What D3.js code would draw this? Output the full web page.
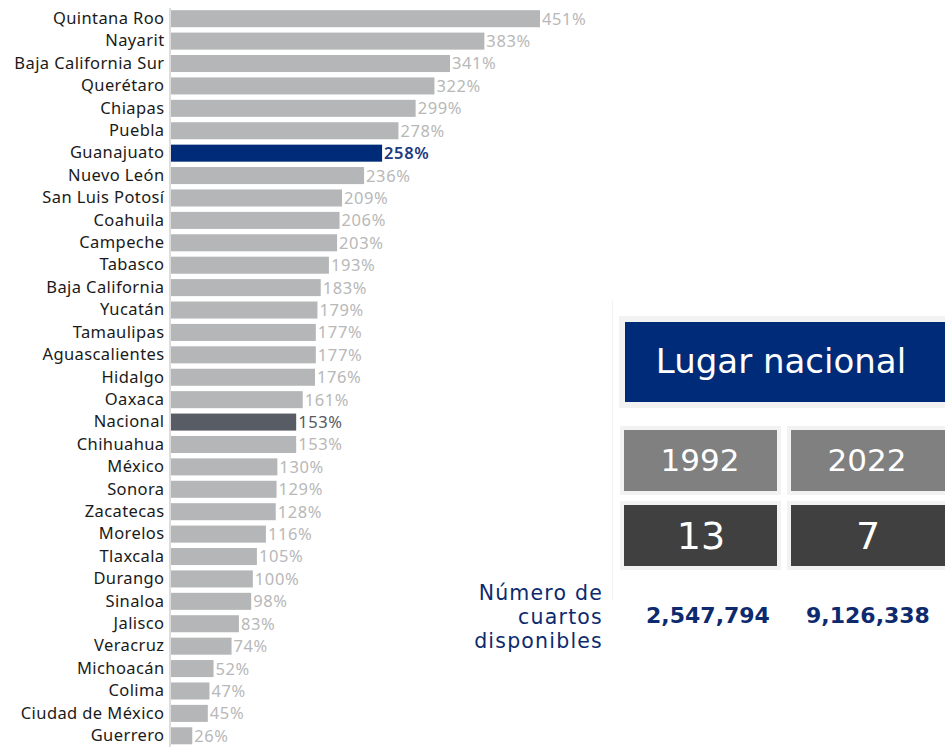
<!DOCTYPE html>
<html>
<head>
<meta charset="utf-8">
<script src="https://cdn.jsdelivr.net/npm/d3@7"></script>
<style>
  body { margin: 0; background: #fff; }
  svg { display: block; }
</style>
</head>
<body>
<svg width="945" height="747"></svg>
<script>
var estados = ['Quintana Roo', 'Nayarit', 'Baja California Sur', 'Querétaro', 'Chiapas', 'Puebla',
  'Guanajuato', 'Nuevo León', 'San Luis Potosí', 'Coahuila', 'Campeche', 'Tabasco',
  'Baja California', 'Yucatán', 'Tamaulipas', 'Aguascalientes', 'Hidalgo', 'Oaxaca',
  'Nacional', 'Chihuahua', 'México', 'Sonora', 'Zacatecas', 'Morelos', 'Tlaxcala',
  'Durango', 'Sinaloa', 'Jalisco', 'Veracruz', 'Michoacán', 'Colima', 'Ciudad de México', 'Guerrero'];
var crecimiento = [451, 383, 341, 322, 299, 278, 258, 236, 209, 206, 203, 193, 183, 179, 177, 177,
  176, 161, 153, 153, 130, 129, 128, 116, 105, 100, 98, 83, 74, 52, 47, 45, 26];
var anios = ['1992', '2022'];
var lugares = ['13', '7'];
var cuartos = ['2,547,794', '9,126,338'];
var rotulo = ['Número de', 'cuartos', 'disponibles'];

var svg = d3.select('svg');
var font = '"Noto Sans", sans-serif';
var font2 = '"DejaVu Sans", sans-serif';

var y = d3.scaleBand()
  .domain(estados)
  .range([7.5, 747])
  .paddingInner(0.24)
  .paddingOuter(0.12);
var x = d3.scaleLinear()
  .domain([0, 451])
  .range([171, 540]);

function color(d) {
  if (d === 'Guanajuato') return '#002b78';
  if (d === 'Nacional') return '#585c64';
  return '#b4b6b7';
}
function labelColor(d) {
  if (d === 'Guanajuato') return '#1c3a80';
  if (d === 'Nacional') return '#555a62';
  return '#b8b8b8';
}

var data = estados.map(function (d, i) {
  return { estado: d, valor: crecimiento[i] };
});

svg.selectAll('rect.bar')
  .data(data)
  .enter()
  .append('rect')
  .attr('class', 'bar')
  .attr('x', x(0))
  .attr('y', function (d) { return y(d.estado); })
  .attr('width', function (d) { return x(d.valor) - x(0); })
  .attr('height', y.bandwidth())
  .attr('fill', function (d) { return color(d.estado); });

svg.selectAll('text.val')
  .data(data)
  .enter()
  .append('text')
  .attr('class', 'val')
  .attr('x', function (d) { return x(d.valor) + 2; })
  .attr('y', function (d) { return y(d.estado) + y.bandwidth() / 2; })
  .attr('dy', '0.36em')
  .attr('font-family', font)
  .attr('font-size', 16.5)
  .attr('letter-spacing', 0.6)
  .attr('font-weight', function (d) { return d.estado === 'Guanajuato' ? 600 : 400; })
  .attr('fill', function (d) { return labelColor(d.estado); })
  .text(function (d) { return d.valor + '%'; });

var axis = svg.append('g')
  .attr('transform', 'translate(169.5,0)')
  .call(d3.axisLeft(y).tickSize(0).tickPadding(5).tickSizeOuter(0));
axis.select('.domain').attr('stroke', '#d0d0d0').attr('stroke-width', 1.5);
axis.selectAll('text')
  .attr('font-family', font)
  .attr('font-size', 16.5)
  .attr('letter-spacing', 0.4)
  .attr('fill', '#1a1a1a');

// panel derecho
svg.append('line')
  .attr('x1', 612.5).attr('x2', 612.5)
  .attr('y1', 300).attr('y2', 600)
  .attr('stroke', '#f3f3f3');

svg.append('rect')
  .attr('x', 619).attr('y', 316).attr('width', 330).attr('height', 92)
  .attr('fill', '#f2f2f2');
svg.append('rect')
  .attr('x', 625).attr('y', 322).attr('width', 325).attr('height', 80)
  .attr('fill', '#002b78');
svg.append('text')
  .attr('x', 781).attr('y', 361)
  .attr('dy', '0.36em')
  .attr('text-anchor', 'middle')
  .attr('font-family', font2)
  .attr('font-size', 34)
  .attr('fill', '#fff')
  .text('Lugar nacional');

var colX = [624, 791];
var colW = [153, 160];

anios.forEach(function (a, i) {
  svg.append('rect')
    .attr('x', colX[i] - 4).attr('y', 426).attr('width', colW[i] + 8).attr('height', 69)
    .attr('fill', '#f2f2f2');
  svg.append('rect')
    .attr('x', colX[i]).attr('y', 430).attr('width', colW[i]).attr('height', 61)
    .attr('fill', '#808080');
  svg.append('text')
    .attr('x', colX[i] + 76).attr('y', 460)
    .attr('dy', '0.36em')
    .attr('text-anchor', 'middle')
    .attr('font-family', font2)
    .attr('font-size', 31)
    .attr('fill', '#fff')
    .text(a);

  svg.append('rect')
    .attr('x', colX[i] - 4).attr('y', 501).attr('width', colW[i] + 8).attr('height', 69)
    .attr('fill', '#f2f2f2');
  svg.append('rect')
    .attr('x', colX[i]).attr('y', 505).attr('width', colW[i]).attr('height', 61)
    .attr('fill', '#404040');
  svg.append('text')
    .attr('x', colX[i] + 77).attr('y', 535)
    .attr('dy', '0.36em')
    .attr('text-anchor', 'middle')
    .attr('font-family', font2)
    .attr('font-size', 38)
    .attr('fill', '#fff')
    .text(lugares[i]);

  svg.append('text')
    .attr('x', [708, 868][i]).attr('y', 615)
    .attr('dy', '0.36em')
    .attr('text-anchor', 'middle')
    .attr('font-family', font2)
    .attr('font-size', 22)
    .attr('font-weight', 700)
    .attr('fill', '#0d2a6e')
    .text(cuartos[i]);
});

svg.selectAll('text.rotulo')
  .data(rotulo)
  .enter()
  .append('text')
  .attr('class', 'rotulo')
  .attr('x', 603)
  .attr('y', function (d, i) { return 593 + i * 24; })
  .attr('dy', '0.36em')
  .attr('text-anchor', 'end')
  .attr('font-family', font2)
  .attr('font-size', 20.5)
  .attr('letter-spacing', 1.2)
  .attr('fill', '#0d2a6e')
  .text(function (d) { return d; });
</script>
</body>
</html>
